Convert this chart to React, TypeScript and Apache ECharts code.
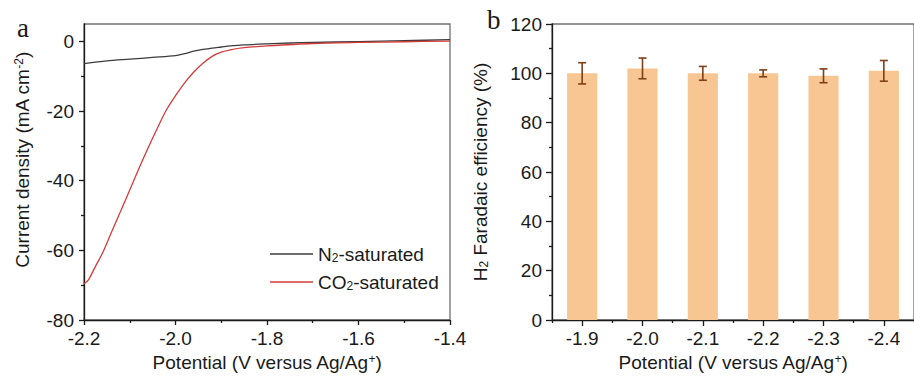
import React, { useEffect, useRef } from "react";
import * as echarts from "echarts";

// Linear sweep voltammetry, potential (V vs Ag/Ag+) -> current density (mA cm^-2)
const n2Curve: [number, number][] = [
  [-2.2, -6.4], [-2.15, -5.6], [-2.1, -5.1], [-2.05, -4.6], [-2.0, -4.1],
  [-1.98, -3.5], [-1.96, -2.8], [-1.94, -2.3], [-1.92, -1.9], [-1.9, -1.6],
  [-1.88, -1.3], [-1.85, -1.0], [-1.8, -0.7], [-1.75, -0.45], [-1.7, -0.3],
  [-1.6, -0.05], [-1.5, 0.2], [-1.4, 0.5],
];

const co2Curve: [number, number][] = [
  [-2.2, -69.6], [-2.19, -68.4], [-2.175, -64.6], [-2.16, -60.9], [-2.14, -54.8],
  [-2.12, -48.8], [-2.1, -42.7], [-2.08, -36.5], [-2.06, -30.6], [-2.04, -25.0],
  [-2.02, -19.7], [-2.0, -15.6], [-1.98, -11.9], [-1.96, -8.8], [-1.94, -6.3],
  [-1.92, -4.3], [-1.9, -3.1], [-1.88, -2.4], [-1.85, -1.8], [-1.8, -1.3],
  [-1.7, -0.6], [-1.6, -0.3], [-1.5, -0.1], [-1.4, 0.1],
];

const currentMajorTicks = [-80, -60, -40, -20, 0];
const currentMinorTicks = [-70, -50, -30, -10];

// H2 Faradaic efficiency at each applied potential
const potentials = ["-1.9", "-2.0", "-2.1", "-2.2", "-2.3", "-2.4"];
const h2Efficiency = [100, 102, 100, 100, 99, 101];
const h2Error = [4.3, 4.2, 2.8, 1.4, 2.8, 4.2];

const SANS = '"Liberation Sans", Arial, sans-serif';
const SERIF = '"Liberation Serif", "Times New Roman", serif';
const INK = "#1a1a1a";
const FONT_SIZE = 19;

const rich = {
  sup: { fontSize: 12, lineHeight: 8, verticalAlign: "top", fontFamily: SANS, color: INK },
  sub: { fontSize: 12, lineHeight: 8, verticalAlign: "bottom", fontFamily: SANS, color: INK },
};

const axisLine = { show: true, onZero: false, lineStyle: { color: INK, width: 1.3 } };
const tickLine = { color: INK, width: 1.3 };
const labelStyle = { fontSize: FONT_SIZE, fontFamily: SANS, color: INK };
const nameStyle = { fontSize: FONT_SIZE, fontFamily: SANS, color: INK, rich };

export default function App() {
  const ref = useRef<HTMLDivElement>(null);

  useEffect(() => {
    if (!ref.current) return;
    const chart = echarts.init(ref.current, undefined, { renderer: "svg" });

    const errorData = h2Efficiency.map((m, i) => [i, m - h2Error[i], m + h2Error[i]]);

    chart.setOption({
      animation: false,
      backgroundColor: "#ffffff",
      textStyle: { fontFamily: SANS },
      grid: [
        {
          left: 84, top: 24, width: 366, height: 296,
          show: true, borderColor: "#707070", borderWidth: 1.3, backgroundColor: "transparent",
        },
        {
          left: 552, top: 24, width: 367, height: 296,
          show: true, borderColor: "#707070", borderWidth: 1.3, backgroundColor: "transparent",
        },
      ],
      legend: {
        left: 265,
        top: 239,
        orient: "vertical",
        icon: "rect",
        itemWidth: 43,
        itemHeight: 1.5,
        itemGap: 8,
        data: ["N2-saturated", "CO2-saturated"],
        textStyle: { ...labelStyle, rich, lineHeight: 20 },
        formatter: (name: string) =>
          name === "N2-saturated" ? "N{sub|2}-saturated" : "CO{sub|2}-saturated",
      },
      xAxis: [
        {
          type: "value",
          gridIndex: 0,
          min: -2.2,
          max: -1.4,
          interval: 0.2,
          position: "bottom",
          axisLine,
          axisTick: { show: true, length: 5, lineStyle: tickLine },
          minorTick: { show: true, splitNumber: 2, length: 3, lineStyle: tickLine },
          splitLine: { show: false },
          axisLabel: { ...labelStyle, margin: 9, formatter: (v: number) => v.toFixed(1) },
          name: "Potential (V versus Ag/Ag{sup|+})",
          nameLocation: "middle",
          nameGap: 32,
          nameTextStyle: nameStyle,
        },
        {
          type: "category",
          gridIndex: 1,
          data: potentials,
          position: "bottom",
          boundaryGap: true,
          axisLine,
          axisTick: { show: true, alignWithLabel: true, length: 6, lineStyle: tickLine },
          splitLine: { show: false },
          axisLabel: { ...labelStyle, margin: 9 },
          name: "Potential (V versus Ag/Ag{sup|+})",
          nameLocation: "middle",
          nameGap: 32,
          nameTextStyle: nameStyle,
        },
        {
          // boundary ticks between potentials
          type: "category",
          gridIndex: 1,
          data: potentials,
          position: "bottom",
          boundaryGap: true,
          axisLine: { show: false },
          axisTick: { show: true, length: 3, lineStyle: tickLine },
          axisLabel: { show: false },
          splitLine: { show: false },
        },
      ],
      yAxis: [
        {
          type: "value",
          gridIndex: 0,
          min: -80,
          max: 5,
          interval: 20,
          position: "left",
          axisLine,
          axisTick: { show: true, length: 5, lineStyle: tickLine, customValues: currentMajorTicks },
          axisLabel: { ...labelStyle, margin: 10, customValues: currentMajorTicks },
          splitLine: { show: false },
          name: "Current density (mA cm{sup|-2})",
          nameLocation: "middle",
          nameGap: 52,
          nameTextStyle: { ...nameStyle, padding: [0, 0, 0, 24] },
        },
        {
          type: "value",
          gridIndex: 0,
          min: -80,
          max: 5,
          interval: 20,
          position: "left",
          offset: 0,
          axisLine: { show: false },
          axisTick: { show: true, length: 3, lineStyle: tickLine, customValues: currentMinorTicks },
          axisLabel: { show: false },
          splitLine: { show: false },
        },
        {
          type: "value",
          gridIndex: 1,
          min: 0,
          max: 120,
          interval: 20,
          position: "left",
          axisLine,
          axisTick: { show: true, length: 6, lineStyle: tickLine },
          minorTick: { show: true, splitNumber: 2, length: 3, lineStyle: tickLine },
          axisLabel: { ...labelStyle, margin: 10 },
          splitLine: { show: false },
          name: "H{sub|2} Faradaic efficiency (%)",
          nameLocation: "middle",
          nameGap: 62,
          nameTextStyle: nameStyle,
        },
      ],
      series: [
        {
          name: "N2-saturated",
          type: "line",
          xAxisIndex: 0,
          yAxisIndex: 0,
          data: n2Curve,
          symbol: "none",
          smooth: 0.3,
          lineStyle: { color: "#3c3c3c", width: 1.3 },
          itemStyle: { color: "#3c3c3c" },
        },
        {
          name: "CO2-saturated",
          type: "line",
          xAxisIndex: 0,
          yAxisIndex: 0,
          data: co2Curve,
          symbol: "none",
          smooth: 0.3,
          lineStyle: { color: "#d43a3a", width: 1.3 },
          itemStyle: { color: "#d43a3a" },
        },
        {
          name: "H2 FE",
          type: "bar",
          xAxisIndex: 1,
          yAxisIndex: 2,
          data: h2Efficiency,
          barWidth: "50%",
          itemStyle: { color: "#f8c693" },
        },
        {
          name: "H2 FE error",
          type: "custom",
          xAxisIndex: 1,
          yAxisIndex: 2,
          z: 5,
          data: errorData,
          encode: { x: 0, y: [1, 2] },
          renderItem: (_params: any, api: any) => {
            const idx = api.value(0);
            const lo = api.coord([idx, api.value(1)]);
            const hi = api.coord([idx, api.value(2)]);
            const cap = 4;
            const style = { stroke: "#7d4018", lineWidth: 1.6 };
            return {
              type: "group",
              children: [
                { type: "line", shape: { x1: lo[0], y1: lo[1], x2: hi[0], y2: hi[1] }, style },
                { type: "line", shape: { x1: lo[0] - cap, y1: lo[1], x2: lo[0] + cap, y2: lo[1] }, style },
                { type: "line", shape: { x1: hi[0] - cap, y1: hi[1], x2: hi[0] + cap, y2: hi[1] }, style },
              ],
            };
          },
        },
      ],
      graphic: [
        {
          type: "text",
          left: 17,
          top: 14,
          style: { text: "a", font: `27px ${SERIF}`, fill: INK },
        },
        {
          type: "text",
          left: 487,
          top: 6,
          style: { text: "b", font: `27px ${SERIF}`, fill: INK },
        },
      ],
    });

    return () => chart.dispose();
  }, []);

  return (
    <div
      ref={ref}
      style={{ position: "fixed", left: 0, top: 0, width: 914, height: 381, background: "#fff" }}
    />
  );
}
